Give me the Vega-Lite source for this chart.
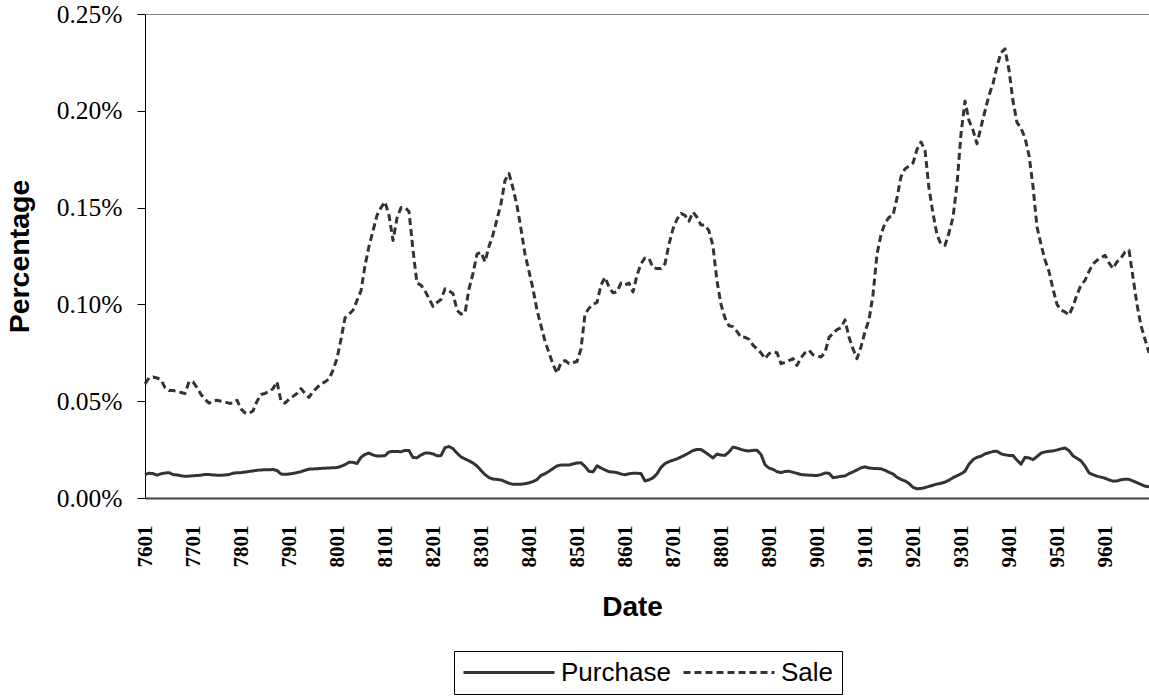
{
  "$schema": "https://vega.github.io/schema/vega-lite/v6.json",
  "autosize": "none",
  "width": 1004,
  "height": 484,
  "padding": {"left": 145, "top": 14, "right": 0, "bottom": 198},
  "background": "white",
  "config": {"view": {"stroke": null}},
  "data": {"values": [
    {"m":"7601","Purchase":0.0121,"Sale":0.059},{"m":"7602","Purchase":0.0128,"Sale":0.062},{"m":"7603","Purchase":0.0126,"Sale":0.0625},{"m":"7604","Purchase":0.0118,"Sale":0.062},{"m":"7605","Purchase":0.0125,"Sale":0.061},{"m":"7606","Purchase":0.0129,"Sale":0.057},{"m":"7607","Purchase":0.0131,"Sale":0.0555},{"m":"7608","Purchase":0.0121,"Sale":0.0555},{"m":"7609","Purchase":0.0119,"Sale":0.055},{"m":"7610","Purchase":0.0115,"Sale":0.0545},{"m":"7611","Purchase":0.0112,"Sale":0.054},{"m":"7612","Purchase":0.0113,"Sale":0.060},
    {"m":"7701","Purchase":0.0115,"Sale":0.060},{"m":"7702","Purchase":0.0116,"Sale":0.057},{"m":"7703","Purchase":0.0118,"Sale":0.0535},{"m":"7704","Purchase":0.0122,"Sale":0.051},{"m":"7705","Purchase":0.0121,"Sale":0.049},{"m":"7706","Purchase":0.0119,"Sale":0.050},{"m":"7707","Purchase":0.0118,"Sale":0.0505},{"m":"7708","Purchase":0.0117,"Sale":0.050},{"m":"7709","Purchase":0.0119,"Sale":0.0495},{"m":"7710","Purchase":0.0121,"Sale":0.049},{"m":"7711","Purchase":0.0128,"Sale":0.049},{"m":"7712","Purchase":0.0131,"Sale":0.0505},
    {"m":"7801","Purchase":0.0131,"Sale":0.046},{"m":"7802","Purchase":0.0134,"Sale":0.044},{"m":"7803","Purchase":0.0137,"Sale":0.0436},{"m":"7804","Purchase":0.014,"Sale":0.045},{"m":"7805","Purchase":0.0143,"Sale":0.050},{"m":"7806","Purchase":0.0145,"Sale":0.0535},{"m":"7807","Purchase":0.0146,"Sale":0.054},{"m":"7808","Purchase":0.0146,"Sale":0.055},{"m":"7809","Purchase":0.0147,"Sale":0.0565},{"m":"7810","Purchase":0.0142,"Sale":0.060},{"m":"7811","Purchase":0.0124,"Sale":0.050},{"m":"7812","Purchase":0.0122,"Sale":0.049},
    {"m":"7901","Purchase":0.0124,"Sale":0.051},{"m":"7902","Purchase":0.0127,"Sale":0.0525},{"m":"7903","Purchase":0.0131,"Sale":0.054},{"m":"7904","Purchase":0.0136,"Sale":0.0565},{"m":"7905","Purchase":0.0143,"Sale":0.054},{"m":"7906","Purchase":0.0149,"Sale":0.052},{"m":"7907","Purchase":0.015,"Sale":0.055},{"m":"7908","Purchase":0.0151,"Sale":0.057},{"m":"7909","Purchase":0.0153,"Sale":0.059},{"m":"7910","Purchase":0.0154,"Sale":0.060},{"m":"7911","Purchase":0.0155,"Sale":0.0615},{"m":"7912","Purchase":0.0156,"Sale":0.066},
    {"m":"8001","Purchase":0.0157,"Sale":0.072},{"m":"8002","Purchase":0.0164,"Sale":0.082},{"m":"8003","Purchase":0.0172,"Sale":0.093},{"m":"8004","Purchase":0.0185,"Sale":0.095},{"m":"8005","Purchase":0.0184,"Sale":0.097},{"m":"8006","Purchase":0.0178,"Sale":0.102},{"m":"8007","Purchase":0.021,"Sale":0.107},{"m":"8008","Purchase":0.0225,"Sale":0.120},{"m":"8009","Purchase":0.0232,"Sale":0.130},{"m":"8010","Purchase":0.0222,"Sale":0.138},{"m":"8011","Purchase":0.0217,"Sale":0.146},{"m":"8012","Purchase":0.0217,"Sale":0.150},
    {"m":"8101","Purchase":0.0219,"Sale":0.153},{"m":"8102","Purchase":0.0238,"Sale":0.146},{"m":"8103","Purchase":0.0241,"Sale":0.133},{"m":"8104","Purchase":0.024,"Sale":0.1445},{"m":"8105","Purchase":0.0239,"Sale":0.150},{"m":"8106","Purchase":0.0246,"Sale":0.150},{"m":"8107","Purchase":0.0245,"Sale":0.148},{"m":"8108","Purchase":0.0209,"Sale":0.128},{"m":"8109","Purchase":0.0208,"Sale":0.111},{"m":"8110","Purchase":0.0222,"Sale":0.110},{"m":"8111","Purchase":0.0232,"Sale":0.107},{"m":"8112","Purchase":0.0232,"Sale":0.103},
    {"m":"8201","Purchase":0.0228,"Sale":0.099},{"m":"8202","Purchase":0.0218,"Sale":0.101},{"m":"8203","Purchase":0.0219,"Sale":0.1025},{"m":"8204","Purchase":0.026,"Sale":0.108},{"m":"8205","Purchase":0.0266,"Sale":0.107},{"m":"8206","Purchase":0.0255,"Sale":0.1056},{"m":"8207","Purchase":0.0232,"Sale":0.097},{"m":"8208","Purchase":0.0212,"Sale":0.095},{"m":"8209","Purchase":0.0202,"Sale":0.0955},{"m":"8210","Purchase":0.0192,"Sale":0.108},{"m":"8211","Purchase":0.0181,"Sale":0.116},{"m":"8212","Purchase":0.0165,"Sale":0.126},
    {"m":"8301","Purchase":0.0142,"Sale":0.127},{"m":"8302","Purchase":0.0121,"Sale":0.122},{"m":"8303","Purchase":0.0105,"Sale":0.130},{"m":"8304","Purchase":0.0098,"Sale":0.136},{"m":"8305","Purchase":0.0096,"Sale":0.144},{"m":"8306","Purchase":0.0093,"Sale":0.152},{"m":"8307","Purchase":0.0085,"Sale":0.164},{"m":"8308","Purchase":0.0076,"Sale":0.1676},{"m":"8309","Purchase":0.0071,"Sale":0.160},{"m":"8310","Purchase":0.0071,"Sale":0.151},{"m":"8311","Purchase":0.0071,"Sale":0.139},{"m":"8312","Purchase":0.0074,"Sale":0.126},
    {"m":"8401","Purchase":0.0078,"Sale":0.117},{"m":"8402","Purchase":0.0085,"Sale":0.108},{"m":"8403","Purchase":0.0095,"Sale":0.097},{"m":"8404","Purchase":0.0117,"Sale":0.089},{"m":"8405","Purchase":0.0125,"Sale":0.081},{"m":"8406","Purchase":0.0138,"Sale":0.075},{"m":"8407","Purchase":0.0152,"Sale":0.069},{"m":"8408","Purchase":0.0166,"Sale":0.0645},{"m":"8409","Purchase":0.017,"Sale":0.070},{"m":"8410","Purchase":0.017,"Sale":0.071},{"m":"8411","Purchase":0.017,"Sale":0.0695},{"m":"8412","Purchase":0.0176,"Sale":0.070},
    {"m":"8501","Purchase":0.0181,"Sale":0.0705},{"m":"8502","Purchase":0.0182,"Sale":0.077},{"m":"8503","Purchase":0.0163,"Sale":0.095},{"m":"8504","Purchase":0.0138,"Sale":0.098},{"m":"8505","Purchase":0.0135,"Sale":0.100},{"m":"8506","Purchase":0.0166,"Sale":0.101},{"m":"8507","Purchase":0.0155,"Sale":0.110},{"m":"8508","Purchase":0.0145,"Sale":0.114},{"m":"8509","Purchase":0.0136,"Sale":0.109},{"m":"8510","Purchase":0.0134,"Sale":0.106},{"m":"8511","Purchase":0.0131,"Sale":0.1065},{"m":"8512","Purchase":0.0124,"Sale":0.111},
    {"m":"8601","Purchase":0.012,"Sale":0.110},{"m":"8602","Purchase":0.0125,"Sale":0.111},{"m":"8603","Purchase":0.0128,"Sale":0.1064},{"m":"8604","Purchase":0.0128,"Sale":0.115},{"m":"8605","Purchase":0.0126,"Sale":0.121},{"m":"8606","Purchase":0.0088,"Sale":0.124},{"m":"8607","Purchase":0.0094,"Sale":0.1237},{"m":"8608","Purchase":0.0104,"Sale":0.119},{"m":"8609","Purchase":0.0125,"Sale":0.1185},{"m":"8610","Purchase":0.0158,"Sale":0.1185},{"m":"8611","Purchase":0.0178,"Sale":0.121},{"m":"8612","Purchase":0.0188,"Sale":0.131},
    {"m":"8701","Purchase":0.0195,"Sale":0.139},{"m":"8702","Purchase":0.0202,"Sale":0.144},{"m":"8703","Purchase":0.0212,"Sale":0.147},{"m":"8704","Purchase":0.0222,"Sale":0.146},{"m":"8705","Purchase":0.0233,"Sale":0.143},{"m":"8706","Purchase":0.0245,"Sale":0.1477},{"m":"8707","Purchase":0.0251,"Sale":0.145},{"m":"8708","Purchase":0.025,"Sale":0.141},{"m":"8709","Purchase":0.0237,"Sale":0.141},{"m":"8710","Purchase":0.0222,"Sale":0.138},{"m":"8711","Purchase":0.0207,"Sale":0.130},{"m":"8712","Purchase":0.0227,"Sale":0.112},
    {"m":"8801","Purchase":0.0222,"Sale":0.100},{"m":"8802","Purchase":0.022,"Sale":0.093},{"m":"8803","Purchase":0.0238,"Sale":0.089},{"m":"8804","Purchase":0.0263,"Sale":0.0885},{"m":"8805","Purchase":0.0258,"Sale":0.086},{"m":"8806","Purchase":0.0251,"Sale":0.083},{"m":"8807","Purchase":0.0245,"Sale":0.083},{"m":"8808","Purchase":0.0243,"Sale":0.082},{"m":"8809","Purchase":0.0246,"Sale":0.079},{"m":"8810","Purchase":0.0246,"Sale":0.077},{"m":"8811","Purchase":0.0225,"Sale":0.075},{"m":"8812","Purchase":0.0172,"Sale":0.072},
    {"m":"8901","Purchase":0.0155,"Sale":0.0746},{"m":"8902","Purchase":0.0148,"Sale":0.0755},{"m":"8903","Purchase":0.0136,"Sale":0.075},{"m":"8904","Purchase":0.0131,"Sale":0.0694},{"m":"8905","Purchase":0.0137,"Sale":0.070},{"m":"8906","Purchase":0.0138,"Sale":0.071},{"m":"8907","Purchase":0.0133,"Sale":0.072},{"m":"8908","Purchase":0.0127,"Sale":0.0685},{"m":"8909","Purchase":0.0121,"Sale":0.0725},{"m":"8910","Purchase":0.0119,"Sale":0.075},{"m":"8911","Purchase":0.0118,"Sale":0.0763},{"m":"8912","Purchase":0.0117,"Sale":0.074},
    {"m":"9001","Purchase":0.0116,"Sale":0.0735},{"m":"9002","Purchase":0.0121,"Sale":0.0728},{"m":"9003","Purchase":0.0129,"Sale":0.075},{"m":"9004","Purchase":0.0128,"Sale":0.083},{"m":"9005","Purchase":0.0105,"Sale":0.085},{"m":"9006","Purchase":0.0108,"Sale":0.087},{"m":"9007","Purchase":0.0112,"Sale":0.088},{"m":"9008","Purchase":0.0114,"Sale":0.092},{"m":"9009","Purchase":0.0126,"Sale":0.083},{"m":"9010","Purchase":0.0135,"Sale":0.077},{"m":"9011","Purchase":0.0145,"Sale":0.072},{"m":"9012","Purchase":0.0156,"Sale":0.078},
    {"m":"9101","Purchase":0.0161,"Sale":0.086},{"m":"9102","Purchase":0.0155,"Sale":0.092},{"m":"9103","Purchase":0.0153,"Sale":0.105},{"m":"9104","Purchase":0.0152,"Sale":0.126},{"m":"9105","Purchase":0.0151,"Sale":0.136},{"m":"9106","Purchase":0.0143,"Sale":0.142},{"m":"9107","Purchase":0.0133,"Sale":0.145},{"m":"9108","Purchase":0.0124,"Sale":0.146},{"m":"9109","Purchase":0.0107,"Sale":0.155},{"m":"9110","Purchase":0.0096,"Sale":0.166},{"m":"9111","Purchase":0.0088,"Sale":0.170},{"m":"9112","Purchase":0.0075,"Sale":0.1715},
    {"m":"9201","Purchase":0.0055,"Sale":0.173},{"m":"9202","Purchase":0.0048,"Sale":0.180},{"m":"9203","Purchase":0.0049,"Sale":0.1839},{"m":"9204","Purchase":0.0054,"Sale":0.1796},{"m":"9205","Purchase":0.006,"Sale":0.160},{"m":"9206","Purchase":0.0066,"Sale":0.147},{"m":"9207","Purchase":0.0072,"Sale":0.136},{"m":"9208","Purchase":0.0076,"Sale":0.131},{"m":"9209","Purchase":0.0082,"Sale":0.1305},{"m":"9210","Purchase":0.0092,"Sale":0.137},{"m":"9211","Purchase":0.0105,"Sale":0.145},{"m":"9212","Purchase":0.0115,"Sale":0.162},
    {"m":"9301","Purchase":0.0125,"Sale":0.188},{"m":"9302","Purchase":0.0138,"Sale":0.205},{"m":"9303","Purchase":0.0175,"Sale":0.195},{"m":"9304","Purchase":0.0198,"Sale":0.190},{"m":"9305","Purchase":0.021,"Sale":0.183},{"m":"9306","Purchase":0.0216,"Sale":0.1916},{"m":"9307","Purchase":0.0228,"Sale":0.200},{"m":"9308","Purchase":0.0234,"Sale":0.208},{"m":"9309","Purchase":0.024,"Sale":0.214},{"m":"9310","Purchase":0.0242,"Sale":0.223},{"m":"9311","Purchase":0.0228,"Sale":0.230},{"m":"9312","Purchase":0.0223,"Sale":0.232},
    {"m":"9401","Purchase":0.022,"Sale":0.221},{"m":"9402","Purchase":0.0219,"Sale":0.205},{"m":"9403","Purchase":0.0195,"Sale":0.194},{"m":"9404","Purchase":0.0175,"Sale":0.191},{"m":"9405","Purchase":0.021,"Sale":0.186},{"m":"9406","Purchase":0.0207,"Sale":0.177},{"m":"9407","Purchase":0.0198,"Sale":0.161},{"m":"9408","Purchase":0.0214,"Sale":0.140},{"m":"9409","Purchase":0.0232,"Sale":0.131},{"m":"9410","Purchase":0.0238,"Sale":0.123},{"m":"9411","Purchase":0.0241,"Sale":0.117},{"m":"9412","Purchase":0.0243,"Sale":0.108},
    {"m":"9501","Purchase":0.0248,"Sale":0.100},{"m":"9502","Purchase":0.0254,"Sale":0.097},{"m":"9503","Purchase":0.0258,"Sale":0.0961},{"m":"9504","Purchase":0.0245,"Sale":0.0945},{"m":"9505","Purchase":0.0218,"Sale":0.099},{"m":"9506","Purchase":0.0205,"Sale":0.105},{"m":"9507","Purchase":0.0192,"Sale":0.110},{"m":"9508","Purchase":0.0165,"Sale":0.1124},{"m":"9509","Purchase":0.013,"Sale":0.117},{"m":"9510","Purchase":0.012,"Sale":0.121},{"m":"9511","Purchase":0.0113,"Sale":0.1228},{"m":"9512","Purchase":0.0108,"Sale":0.124},
    {"m":"9601","Purchase":0.0102,"Sale":0.1254},{"m":"9602","Purchase":0.0094,"Sale":0.1215},{"m":"9603","Purchase":0.0087,"Sale":0.1185},{"m":"9604","Purchase":0.0088,"Sale":0.122},{"m":"9605","Purchase":0.0094,"Sale":0.124},{"m":"9606","Purchase":0.0097,"Sale":0.127},{"m":"9607","Purchase":0.0096,"Sale":0.128},{"m":"9608","Purchase":0.0088,"Sale":0.114},{"m":"9609","Purchase":0.0079,"Sale":0.100},{"m":"9610","Purchase":0.007,"Sale":0.089},{"m":"9611","Purchase":0.0061,"Sale":0.082},{"m":"9612","Purchase":0.0058,"Sale":0.075}
  ]},
  "transform": [{"fold": ["Purchase", "Sale"], "as": ["series", "value"]}],
  "mark": {"type": "line", "color": "#333333", "strokeWidth": 3, "strokeCap": "butt", "strokeJoin": "round", "clip": false},
  "encoding": {
    "x": {
      "field": "m", "type": "ordinal", "sort": "ascending",
      "scale": {"type": "point", "padding": 0},
      "axis": {
        "title": "Date",
        "values": ["7601","7701","7801","7901","8001","8101","8201","8301","8401","8501","8601","8701","8801","8901","9001","9101","9201","9301","9401","9501","9601"],
        "labelAngle": -90, "labelFont": "Liberation Serif", "labelFontWeight": "bold", "labelFontSize": 21, "labelColor": "black",
        "labelPadding": 27, "ticks": false, "grid": false,
        "domainColor": "#404040", "domainWidth": 2,
        "titleFont": "Liberation Sans", "titleFontWeight": "bold", "titleFontSize": 28, "titleColor": "black",
        "titlePadding": 26, "titleX": 487, "titleAlign": "center", "labelOverlap": false
      }
    },
    "y": {
      "field": "value", "type": "quantitative",
      "scale": {"domain": [0, 0.25], "nice": false, "zero": true},
      "axis": {
        "title": "Percentage",
        "values": [0, 0.05, 0.1, 0.15, 0.2, 0.25],
        "labelExpr": "format(datum.value, '.2f') + '%'",
        "labelFont": "Liberation Serif", "labelFontSize": 25.5, "labelColor": "black", "labelPadding": 15,
        "tickSize": 8, "tickColor": "black", "domainColor": "black", "domainWidth": 1,
        "grid": true, "gridColor": "#808080", "gridWidth": 1,
        "gridOpacity": {"condition": {"test": "datum.value >= 0.25", "value": 1}, "value": 0},
        "titleFont": "Liberation Sans", "titleFontWeight": "bold", "titleFontSize": 28.5, "titleColor": "black",
        "titlePadding": 22
      }
    },
    "strokeDash": {
      "field": "series", "type": "nominal",
      "scale": {"domain": ["Purchase", "Sale"], "range": [[1, 0], [7, 4]]},
      "legend": {
        "title": null, "orient": "none", "legendX": 309, "legendY": 637,
        "direction": "horizontal",
        "symbolType": "stroke", "symbolSize": 8281, "symbolStrokeWidth": 3, "symbolStrokeColor": "#333333",
        "clipHeight": 27,
        "labelFont": "Liberation Sans", "labelFontSize": 26, "labelColor": "black", "labelOffset": 5,
        "columnPadding": 11, "padding": 8, "strokeColor": "black", "fillColor": "white"
      }
    }
  }
}
